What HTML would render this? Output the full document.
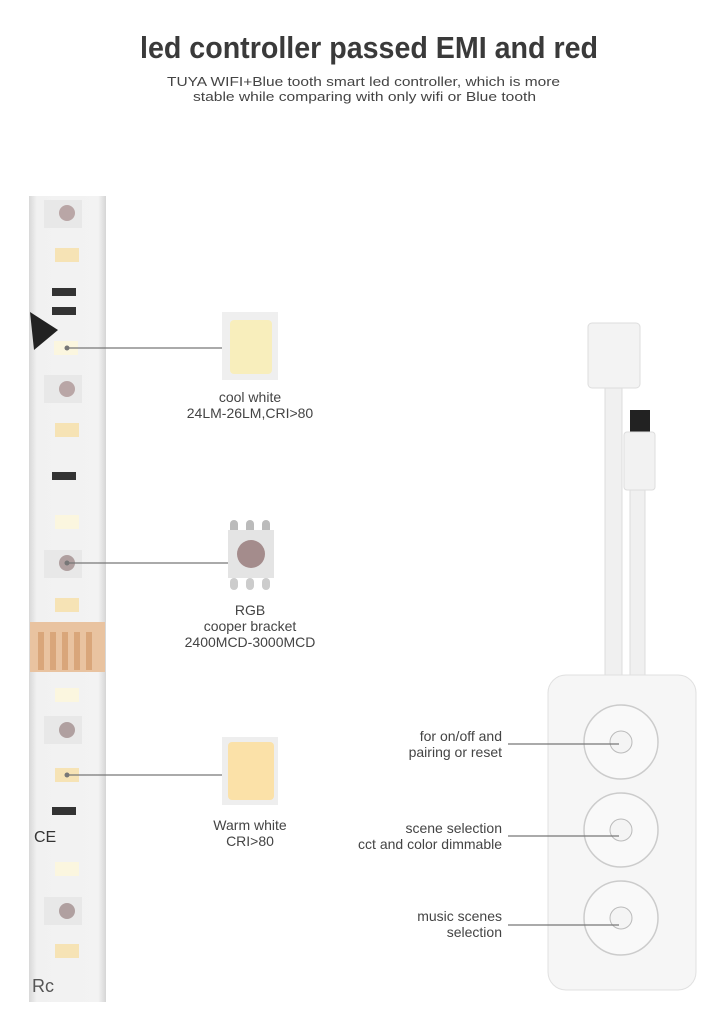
<!DOCTYPE html>
<html><head><style>
body{margin:0;background:#fff;}
svg text{font-family:"Liberation Sans",sans-serif;}
</style></head><body>
<svg width="726" height="1030" viewBox="0 0 726 1030" xmlns="http://www.w3.org/2000/svg">
<rect width="726" height="1030" fill="#fff"/>
<text x="140" y="58" font-size="31" font-weight="bold" fill="#3a3a3a" textLength="458" lengthAdjust="spacingAndGlyphs">led controller passed EMI and red</text>
<text x="167" y="86" font-size="13" fill="#444" textLength="393" lengthAdjust="spacingAndGlyphs">TUYA WIFI+Blue tooth smart led controller, which is more</text>
<text x="193" y="101" font-size="13" fill="#444" textLength="343" lengthAdjust="spacingAndGlyphs">stable while comparing with only wifi or Blue tooth</text>

<!-- strip -->
<defs><linearGradient id="sg" x1="0" x2="1"><stop offset="0" stop-color="#d8d8d8"/><stop offset="0.1" stop-color="#f1f1f1"/><stop offset="0.9" stop-color="#f3f3f3"/><stop offset="1" stop-color="#d5d5d5"/></linearGradient></defs>
<rect x="29" y="196" width="77" height="806" fill="url(#sg)"/>
<g>
<rect x="44" y="200" width="38" height="28" fill="#e8e8e8"/><circle cx="67" cy="213" r="8" fill="#b9a6a6"/>
<rect x="55" y="248" width="24" height="14" fill="#f6e3b5"/>
<rect x="52" y="288" width="24" height="8" fill="#333"/><rect x="52" y="307" width="24" height="8" fill="#333"/>
<polygon points="30,312 58,330 34,350" fill="#222"/>
<rect x="54" y="341" width="24" height="14" fill="#fbf6df"/>
<rect x="44" y="375" width="38" height="28" fill="#e8e8e8"/><circle cx="67" cy="389" r="8" fill="#b9a6a6"/>
<rect x="55" y="423" width="24" height="14" fill="#f6e3b5"/>
<rect x="52" y="472" width="24" height="8" fill="#333"/>
<rect x="55" y="515" width="24" height="14" fill="#fbf6df"/>
<rect x="44" y="550" width="38" height="28" fill="#e8e8e8"/><circle cx="67" cy="563" r="8" fill="#b0a0a0"/>
<rect x="55" y="598" width="24" height="14" fill="#f6e3b5"/>
<rect x="30" y="622" width="75" height="50" fill="#e9c3a0"/>
<rect x="38" y="632" width="6" height="38" fill="#d9a67a"/><rect x="50" y="632" width="6" height="38" fill="#d9a67a"/><rect x="62" y="632" width="6" height="38" fill="#d9a67a"/><rect x="74" y="632" width="6" height="38" fill="#d9a67a"/><rect x="86" y="632" width="6" height="38" fill="#d9a67a"/>
<rect x="55" y="688" width="24" height="14" fill="#fbf6df"/>
<rect x="44" y="716" width="38" height="28" fill="#e8e8e8"/><circle cx="67" cy="730" r="8" fill="#b0a0a0"/>
<rect x="55" y="768" width="24" height="14" fill="#f6e3b5"/>
<rect x="52" y="807" width="24" height="8" fill="#333"/>
<text x="34" y="842" font-size="16" fill="#333">CE</text>
<rect x="55" y="862" width="24" height="14" fill="#fbf6df"/>
<rect x="44" y="897" width="38" height="28" fill="#e8e8e8"/><circle cx="67" cy="911" r="8" fill="#b0a0a0"/>
<rect x="55" y="944" width="24" height="14" fill="#f6e3b5"/>
<text x="32" y="992" font-size="18" fill="#555">Rc</text>
</g>

<!-- lines -->
<g stroke="#777" stroke-width="1.2">
<line x1="67" y1="348" x2="222" y2="348"/>
<line x1="67" y1="563" x2="230" y2="563"/>
<line x1="67" y1="775" x2="222" y2="775"/>
</g>
<circle cx="67" cy="348" r="2.5" fill="#777"/><circle cx="67" cy="563" r="2.5" fill="#777"/><circle cx="67" cy="775" r="2.5" fill="#777"/>

<!-- chips -->
<rect x="222" y="312" width="56" height="68" fill="#efefef"/><rect x="230" y="320" width="42" height="54" rx="4" fill="#f8eebc"/>
<rect x="230" y="520" width="8" height="14" rx="4" fill="#bbb"/><rect x="246" y="520" width="8" height="14" rx="4" fill="#bbb"/><rect x="262" y="520" width="8" height="14" rx="4" fill="#bbb"/>
<rect x="228" y="530" width="46" height="48" fill="#e4e4e4"/><circle cx="251" cy="554" r="14" fill="#a48c8c"/>
<rect x="230" y="578" width="8" height="12" rx="4" fill="#ccc"/><rect x="246" y="578" width="8" height="12" rx="4" fill="#ccc"/><rect x="262" y="578" width="8" height="12" rx="4" fill="#ccc"/>
<rect x="222" y="737" width="56" height="68" fill="#eeeeee"/><rect x="228" y="742" width="46" height="58" rx="4" fill="#fbe1a8"/>

<g font-size="14" fill="#444" text-anchor="middle">
<text x="250" y="402">cool white</text><text x="250" y="418">24LM-26LM,CRI&gt;80</text>
<text x="250" y="615">RGB</text><text x="250" y="631">cooper bracket</text><text x="250" y="647">2400MCD-3000MCD</text>
<text x="250" y="830">Warm white</text><text x="250" y="846">CRI&gt;80</text>
</g>

<!-- controller -->
<rect x="605" y="385" width="17" height="300" fill="#f0f0f0" stroke="#ddd"/>
<rect x="630" y="488" width="15" height="197" fill="#f0f0f0" stroke="#ddd"/>
<rect x="588" y="323" width="52" height="65" rx="4" fill="#f3f3f3" stroke="#ddd"/>
<rect x="630" y="410" width="20" height="24" fill="#222"/>
<rect x="624" y="432" width="31" height="58" rx="3" fill="#f2f2f2" stroke="#ddd"/>
<rect x="548" y="675" width="148" height="315" rx="18" fill="#f6f6f6" stroke="#e0e0e0"/>
<g fill="#f9f9f9" stroke="#ccc" stroke-width="1.5">
<circle cx="621" cy="742" r="37"/><circle cx="621" cy="830" r="37"/><circle cx="621" cy="918" r="37"/>
</g>
<g fill="#f4f4f4" stroke="#bbb"><circle cx="621" cy="742" r="11"/><circle cx="621" cy="830" r="11"/><circle cx="621" cy="918" r="11"/></g>
<g stroke="#777" stroke-width="1.2">
<line x1="508" y1="744" x2="619" y2="744"/><line x1="508" y1="836" x2="619" y2="836"/><line x1="508" y1="925" x2="619" y2="925"/>
</g>
<g font-size="14" fill="#444" text-anchor="end">
<text x="502" y="741">for on/off and</text><text x="502" y="757">pairing or reset</text>
<text x="502" y="833">scene selection</text><text x="502" y="849">cct and color dimmable</text>
<text x="502" y="921">music scenes</text><text x="502" y="937">selection</text>
</g>
</svg>
</body></html>
